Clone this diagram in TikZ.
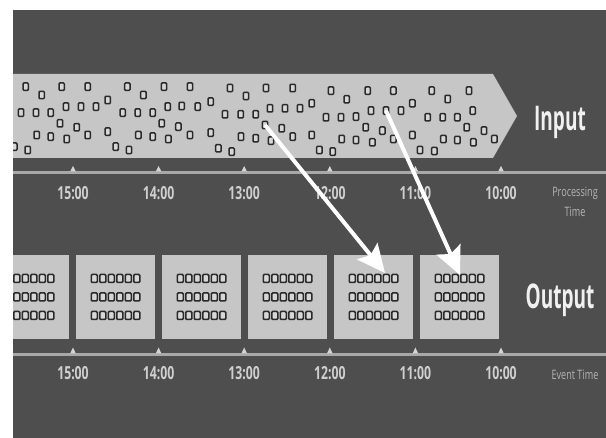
\documentclass[tikz,border=0pt]{standalone}
\usepackage{fontspec}
\setmainfont{Open Sans}
\newfontfamily\lblfont[FakeStretch=0.68]{Open Sans}
\newfontfamily\bigfont[FakeStretch=0.56]{Open Sans}
\newfontfamily\smallfont[FakeStretch=0.7]{Open Sans}
\usetikzlibrary{arrows.meta}
\definecolor{bg}{HTML}{4E4E4E}
\definecolor{band}{HTML}{C6C6C6}
\definecolor{dotline}{HTML}{2A2A2A}
\definecolor{axiscol}{HTML}{A8A8A8}
\definecolor{lbl}{HTML}{CFCFCF}
\definecolor{sublbl}{HTML}{B4B4B4}
\tikzset{
  dot/.style={draw=dotline, line width=1.5pt, fill=band!70!white, rounded corners=1pt,
              minimum width=5.4pt, minimum height=7.4pt, inner sep=0pt},
  bdot/.style={dot, minimum width=6pt, minimum height=8pt},
  outbox/.style={fill=band, draw=none, minimum width=79pt, minimum height=84pt, inner sep=0pt},
  tlabel/.style={text=lbl, anchor=base, inner sep=0pt, font=\lblfont\bfseries\fontsize{18}{20}\selectfont},
  heading/.style={text=white!94!black, anchor=base, inner sep=0pt, font=\bigfont\bfseries\fontsize{34}{36}\selectfont},
  axislabel/.style={text=sublbl, anchor=base, inner sep=0pt, font=\smallfont\fontsize{13}{14}\selectfont},
  axisline/.style={draw=axiscol, line width=2.2pt},
  tick/.style={fill=lbl!90!white},
  flow/.style={draw=white, line width=4pt, -{Stealth[length=28pt,width=26pt,inset=5pt]}}
}
\begin{document}
\begin{tikzpicture}[x=1pt,y=-1pt]
\useasboundingbox (0,0) rectangle (606,438);
\fill[white] (0,0) rectangle (606,438);
\fill[bg] (13,10) rectangle (606,438);
\begin{scope}
\clip (13,10) rectangle (606,438);
% input band
\fill[band] (0,74) -- (493,74) -- (517,116) -- (493,158) -- (0,158) -- cycle;
\foreach \x/\y in {25.7/86.7, 61.7/86.7, 87.7/86.7, 127.3/86.7, 164/86.7,
  41.7/95, 107.7/100, 143.3/95,
  21/112.7, 36/112.7, 50.7/112.7, 66/106.7, 81/106.7, 96/106.7, 122.7/112.7, 137.7/112.7, 152.7/112.7, 167.7/106.7, 181.7/106,
  60/123.3, 76.7/127.3, 161.7/123.3, 178.3/126.7,
  36.7/135, 50.7/136.7, 66.7/139, 87.7/135, 107.7/131.7, 138.3/135, 152.7/136.7, 168.3/139,
  14.3/146.7, 27.7/150, 115.7/146.7, 129/150,
  190/86.7, 230/88, 266/88, 292.7/88, 331/90.7,
  246/96, 210.7/101.7, 346.7/99.3,
  197.7/106.7, 225/114.3, 240.7/114.3, 255.7/114.3, 270/108.3, 285/108.3, 300/108.3, 311.7/103.3, 326/117.3, 341/117.3,
  281.7/128.3,
  190/135, 210.7/132.7, 241/136.7, 255.7/138.3, 271/140.7, 292.7/136.7, 311.7/135, 341.7/139,
  218.3/148.3, 231.7/151.7, 319.3/150, 332.7/151.7,
  367.7/90.7, 393.3/90.7, 431.7/90.7, 469/90.7,
  447.7/99, 412.3/103.3,
  356/116.7, 371/110.7, 401/110.7, 427.7/117.3, 442.7/117.3, 457.3/117.3, 472.7/110.7,
  365.7/127.3, 382.3/130.7, 466.7/127.3, 484/130.7, 494.3/139,
  356/140, 372.3/142.3, 393.3/139, 412.3/135, 443.3/139, 457.3/140, 473.3/142.3,
  420/150, 434.3/151}
  \node[dot] at (\x,\y) {};
\node[dot] (src1) at (265,125) {};
\node[dot] (src2) at (386,110.7) {};
% output boxes
\foreach \cx [count=\i] in {29.5,115.5,201.5,287.5,373.5,459.5} {
  \node[outbox] (box\i) at (\cx,297) {};
  \foreach \c in {0,...,5} \foreach \r in {0,1,2}
    \node[bdot] at ({\cx+(\c-2.5)*8.5},{297+(\r-1)*18.5}) {};
}
% axes
\draw[axisline] (13,172.5) -- (606,172.5);
\draw[axisline] (13,354.5) -- (606,354.5);
\foreach \tx/\lab in {73/15:00, 158.6/14:00, 244.2/13:00, 329.8/12:00, 415.4/11:00, 501/10:00} {
  \fill[tick] (\tx-2.8,171.5) -- (\tx+2.8,171.5) -- (\tx,166) -- cycle;
  \fill[tick] (\tx-2.8,353.5) -- (\tx+2.8,353.5) -- (\tx,347.5) -- cycle;
  \node[tlabel] at (\tx,200) {\lab};
  \node[tlabel] at (\tx,380) {\lab};
}
\end{scope}
\node[heading] (input) at (560,130.5) {Input};
\node[heading] (output) at (560,308.3) {Output};
\node[axislabel] (pt1) at (575,196.5) {Processing};
\node[axislabel] (pt2) at (575,217) {Time};
\node[axislabel] (et) at (575,380) {Event Time};
% arrows
\coordinate (tgt1) at (385,273);
\coordinate (tgt2) at (460,275);
\draw[flow] (src1.center) -- (tgt1);
\draw[flow] (src2.center) -- (tgt2);
\end{tikzpicture}
\end{document}
